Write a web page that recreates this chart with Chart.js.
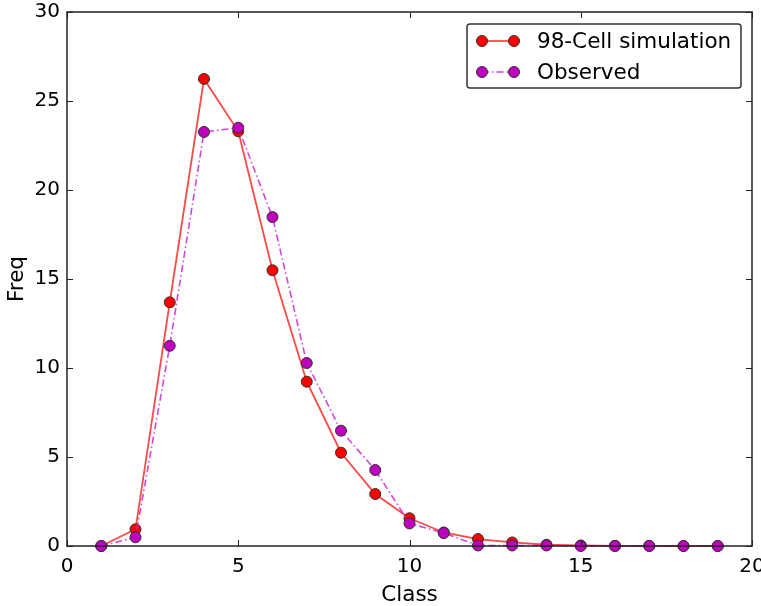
<!DOCTYPE html>
<html>
<head>
<meta charset="utf-8">
<script src="https://cdn.jsdelivr.net/npm/chart.js@4.4.0/dist/chart.umd.min.js"></script>
<style>
html,body{margin:0;padding:0;background:#fff;}
#wrap{width:761px;height:606px;}
</style>
</head>
<body>
<div id="wrap"><canvas id="c" width="761" height="606"></canvas></div>
<script>
const classes = [1,2,3,4,5,6,7,8,9,10,11,12,13,14,15,16,17,18,19];
const simulation = [0, 0.94, 13.69, 26.24, 23.3, 15.49, 9.23, 5.24, 2.92, 1.56, 0.76, 0.39, 0.2, 0.07, 0.03, 0.01, 0.01, 0.0, 0.0];
const observed = [0, 0.49, 11.25, 23.26, 23.5, 18.48, 10.28, 6.48, 4.27, 1.27, 0.73, 0.03, 0.03, 0.03, 0.0, 0.0, 0.0, 0.0, 0.0];
const xTicks = [0,5,10,15,20];
const yTicks = [0,5,10,15,20,25,30];
const seriesLabels = ['98-Cell simulation','Observed'];

const FONT = 'DejaVu Sans';

const frameTicks = {
  id:'frameTicks',
  afterDatasetsDraw(chart){
    const {ctx, chartArea:a, scales:{x,y}} = chart;
    ctx.save();
    ctx.strokeStyle = '#222';
    ctx.lineWidth = 1.5;
    ctx.strokeRect(a.left, a.top, a.right-a.left, a.bottom-a.top);
    ctx.lineWidth = 1;
    const L = 6;
    ctx.beginPath();
    xTicks.forEach(v=>{
      const px = Math.round(x.getPixelForValue(v))+0.5;
      ctx.moveTo(px, a.bottom); ctx.lineTo(px, a.bottom-L);
      ctx.moveTo(px, a.top); ctx.lineTo(px, a.top+L);
    });
    yTicks.forEach(v=>{
      const py = Math.round(y.getPixelForValue(v))+0.5;
      ctx.moveTo(a.left, py); ctx.lineTo(a.left+L, py);
      ctx.moveTo(a.right, py); ctx.lineTo(a.right-L, py);
    });
    ctx.stroke();
    ctx.restore();
  },
  afterDraw(chart){
    const {ctx} = chart;
    const bx = 467, by = 24, bw = 274, bh = 64;
    ctx.save();
    ctx.fillStyle = '#fff';
    ctx.strokeStyle = '#333';
    ctx.lineWidth = 1.5;
    ctx.beginPath();
    ctx.roundRect(bx, by, bw, bh, 3);
    ctx.fill(); ctx.stroke();
    const ds = chart.data.datasets;
    const rows = [41, 72];
    ds.forEach((d,i)=>{
      const yy = rows[i];
      ctx.strokeStyle = d.borderColor;
      ctx.lineWidth = d.borderWidth;
      ctx.setLineDash(d.borderDash || []);
      ctx.beginPath(); ctx.moveTo(482, yy); ctx.lineTo(514, yy); ctx.stroke();
      ctx.setLineDash([]);
      [482,514].forEach(px=>{
        ctx.beginPath(); ctx.arc(px, yy, 5.5, 0, Math.PI*2);
        ctx.fillStyle = d.pointBackgroundColor; ctx.fill();
        ctx.strokeStyle = d.pointBorderColor; ctx.lineWidth = 1; ctx.stroke();
      });
      ctx.fillStyle = '#000';
      ctx.font = '21.5px "' + FONT + '"';
      ctx.textBaseline = 'middle';
      ctx.fillText(d.label, 537, yy+1);
    });
    ctx.restore();
  }
};

new Chart(document.getElementById('c'), {
  type:'line',
  data:{
    datasets:[
      {
        label: seriesLabels[0],
        data: classes.map((c,i)=>({x:c, y:simulation[i]})),
        borderColor:'rgba(255,40,40,0.85)',
        borderWidth:1.8,
        pointRadius:5.5,
        pointHoverRadius:5.5,
        pointBackgroundColor:'#ff0000',
        pointBorderColor:'#333',
        pointBorderWidth:1,
        tension:0,
        order:2
      },
      {
        label: seriesLabels[1],
        data: classes.map((c,i)=>({x:c, y:observed[i]})),
        borderColor:'rgba(200,40,210,0.85)',
        borderWidth:1.6,
        borderDash:[7,3,1.5,3],
        pointRadius:5.5,
        pointHoverRadius:5.5,
        pointBackgroundColor:'#bf00bf',
        pointBorderColor:'#333',
        pointBorderWidth:1,
        tension:0,
        order:1
      }
    ]
  },
  plugins:[frameTicks],
  options:{
    responsive:false,
    animation:false,
    devicePixelRatio:1,
    clip:false,
    layout:{padding:{top:12,right:9,left:0,bottom:0}},
    plugins:{legend:{display:false},tooltip:{enabled:false}},
    scales:{
      x:{
        type:'linear', min:0, max:20,
        afterBuildTicks(s){ s.ticks = xTicks.map(v=>({value:v})); },
        afterFit(s){ s.height = 60; s.paddingLeft = 0; s.paddingRight = 0; },
        grid:{display:false, drawTicks:false},
        border:{display:false},
        ticks:{font:{family:FONT,size:20}, color:'#000', padding:9, maxRotation:0},
        title:{display:true, text:'Class', font:{family:FONT,size:21.5}, color:'#000', padding:{top:4,bottom:-2}}
      },
      y:{
        type:'linear', min:0, max:30,
        afterBuildTicks(s){ s.ticks = yTicks.map(v=>({value:v})); },
        afterFit(s){ s.width = 67; s.paddingTop = 0; s.paddingBottom = 0; },
        grid:{display:false, drawTicks:false},
        border:{display:false},
        ticks:{font:{family:FONT,size:20}, color:'#000', padding:7},
        title:{display:true, text:'Freq', font:{family:FONT,size:21.5}, color:'#000', padding:{top:5,bottom:0}}
      }
    }
  }
});
</script>
</body>
</html>
